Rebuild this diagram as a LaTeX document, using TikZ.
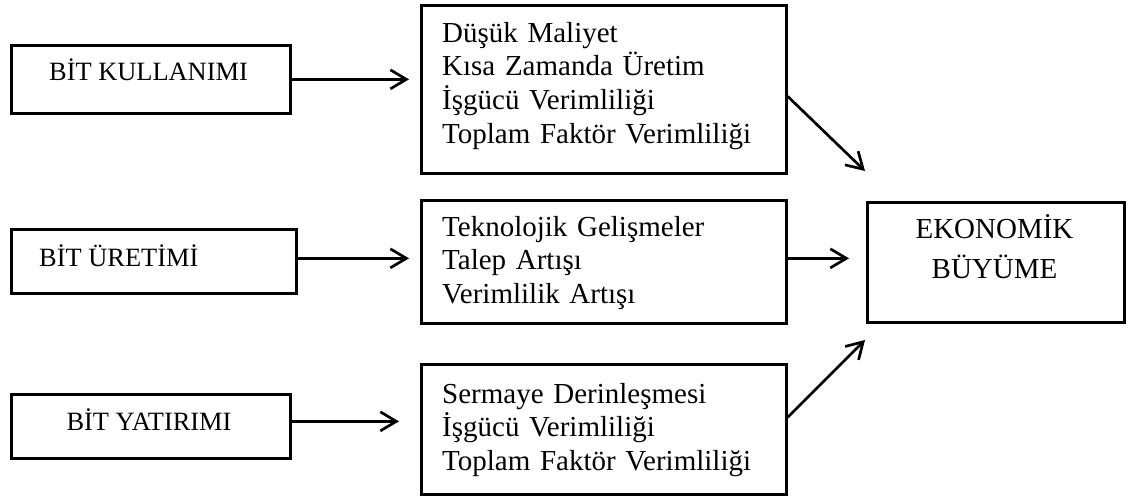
\documentclass[tikz,border=0pt]{standalone}
\usepackage{fontspec}
\setmainfont{Liberation Serif}
\usetikzlibrary{arrows.meta}
\begin{document}
\begin{tikzpicture}[x=1pt,y=-1pt,
  box/.style={draw, line width=2.7pt, inner sep=0pt, anchor=north west},
  lbl/.style={inner sep=0pt, font=\fontsize{26.4}{33.8}\selectfont},
  mlbl/.style={inner sep=0pt, font=\fontsize{29}{33.8}\selectfont},
  arr/.style={line width=2.7pt, -{Straight Barb[length=16pt,width=19pt]}}]
\useasboundingbox (0,0) rectangle (1130,496);
% left boxes
\node[box, minimum width=279pt, minimum height=68pt] (L1) at (10,44) {};
\node[box, minimum width=285pt, minimum height=64pt] (L2) at (10,228) {};
\node[box, minimum width=279pt, minimum height=64pt] (L3) at (10,393) {};
% middle boxes
\node[box, minimum width=365pt, minimum height=168pt] (M1) at (420,4) {};
\node[box, minimum width=365pt, minimum height=123pt] (M2) at (420,199) {};
\node[box, minimum width=365pt, minimum height=130pt] (M3) at (420,363) {};
% result box
\node[box, minimum width=257pt, minimum height=120pt] (E) at (866,201) {};
% texts
\node[lbl, anchor=base] (tL1) at (148.5,80) {BİT KULLANIMI};
\node[lbl, anchor=base west] (tL2) at (39,266) {BİT ÜRETİMİ};
\node[lbl, anchor=base] (tL3) at (149,430) {BİT YATIRIMI};
\node[mlbl, anchor=base west, text width=340pt, align=left] (tM1) at (442,42)
  {Düşük Maliyet\\Kısa Zamanda Üretim\\İşgücü Verimliliği\\Toplam Faktör Verimliliği};
\node[mlbl, anchor=base west, text width=340pt, align=left] (tM2) at (442,236)
  {Teknolojik Gelişmeler\\Talep Artışı\\Verimlilik Artışı};
\node[mlbl, anchor=base west, text width=340pt, align=left] (tM3) at (442,403)
  {Sermaye Derinleşmesi\\İşgücü Verimliliği\\Toplam Faktör Verimliliği};
\node[mlbl, anchor=base, text width=250pt, align=center, font=\fontsize{29}{40}\selectfont] (tE) at (994.5,238)
  {EKONOMİK\\BÜYÜME};
% connector end points
\coordinate (l1o) at (L1.east);
\coordinate (l2o) at ([yshift=3pt]L2.east);
\coordinate (l3o) at ([yshift=5pt]L3.east);
\coordinate (m1o) at ([yshift=-7pt]M1.east);
\coordinate (m2o) at ([yshift=3.5pt]M2.east);
\coordinate (m3o) at ([yshift=12pt]M3.east);
\coordinate (e1) at (865,171);
\coordinate (e3) at (865,340);
% connectors
\draw[arr, shorten >=11pt] (l1o) -- (l1o -| M1.west);
\draw[arr, shorten >=11pt] (l2o) -- (l2o -| M2.west);
\draw[arr, shorten >=21pt] (l3o) -- (l3o -| M3.west);
\draw[arr] (m1o) -- (e1);
\draw[arr, shorten >=17pt] (m2o) -- (m2o -| E.west);
\draw[arr] (m3o) -- (e3);
\end{tikzpicture}
\end{document}
